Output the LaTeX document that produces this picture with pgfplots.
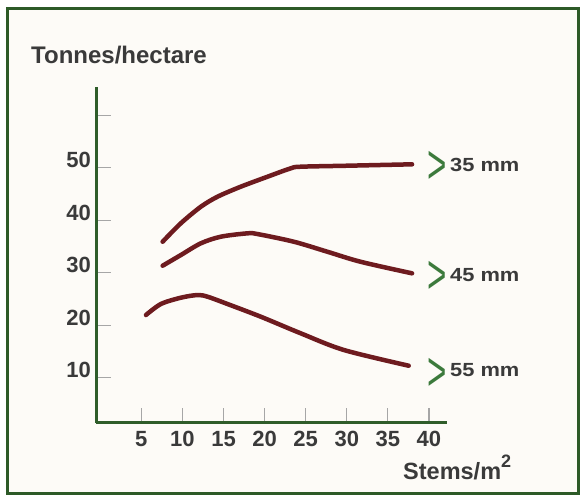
\documentclass[border=0pt]{standalone}
\usepackage{pgfplots}
\pgfplotsset{compat=1.18}
\usepackage{graphicx}
\usepackage{fontspec}
\setmainfont{Liberation Sans}
\definecolor{framegreen}{HTML}{2D5A27}
\definecolor{axisgreen}{HTML}{2F5D2A}
\definecolor{chev}{HTML}{3C7A3C}
\definecolor{curve}{HTML}{6E1B1F}
\definecolor{txt}{HTML}{3A3A3A}
\definecolor{bgc}{HTML}{FDFBF7}
\begin{document}
\begin{tikzpicture}
\useasboundingbox (0pt,0pt) rectangle (584pt,497pt);
\fill[white] (0pt,0pt) rectangle (584pt,497pt);
\fill[bgc] (7.5pt,3.7pt) rectangle (578.3pt,488.5pt);
\begin{axis}[
  at={(96pt,74pt)}, anchor=south west,
  scale only axis, width=351pt, height=336pt,
  xmin=-0.52, xmax=42.2, ymin=1.39, ymax=65.4,
  axis lines=left,
  axis line style={-, line width=3pt, color=axisgreen},
  xtick={5,10,...,40}, ytick={10,20,...,60},
  yticklabels={10,20,30,40,50,{}},
  tick align=inside, major tick length=15pt,
  tick style={color=black!35, line width=1.2pt},
  /pgf/number format/assume math mode=true,
  ticklabel style={font=\fontsize{22}{22}\selectfont\bfseries, text=txt},
  yticklabel style={anchor=base east, inner sep=0pt, xshift=-5pt},
  xticklabel style={anchor=north, inner sep=0pt, yshift=-8pt},
  clip=false,
]
\addplot[curve, line width=4.5pt, smooth, tension=0.5, line cap=round] coordinates {
(7.59,35.92) (9.80,39.43) (12.24,42.59) (14.27,44.50) (17.09,46.40) (20.34,48.30) (23.17,49.90) (24.38,50.21) (30,50.40) (37.95,50.67)};
\addplot[curve, line width=4.5pt, smooth, tension=0.5, line cap=round] coordinates {
(7.59,31.35) (9.81,33.39) (12.24,35.62) (14.67,36.88) (17.91,37.52) (19.12,37.39) (23.57,35.92) (27.63,34.02) (31.67,32.11) (37.95,29.90)};
\addplot[curve, line width=4.5pt, smooth, tension=0.5, line cap=round] coordinates {
(5.56,21.96) (7.38,24.06) (9.81,25.26) (11.84,25.77) (13.05,25.45) (15.48,24.06) (19.53,21.64) (24.39,18.48) (29.64,15.30) (37.54,12.30)};
\end{axis}
\node[anchor=base west, inner sep=0pt, text=txt, font=\fontsize{24}{24}\selectfont\bfseries] at (31pt,433pt) {Tonnes/hectare};
\node[anchor=base west, inner sep=0pt, text=txt, font=\fontsize{23.5}{23.5}\selectfont\bfseries] at (403pt,17.7pt) {Stems/m\raisebox{12pt}{\fontsize{18}{18}\selectfont 2}};
\node[anchor=base west, inner sep=0pt, text=chev] at (427pt,313pt) {\scalebox{0.72}[1.2]{\fontsize{46}{46}\selectfont >}};
\node[anchor=base west, inner sep=0pt, text=txt] at (450pt,325pt) {\scalebox{1.15}[1]{\fontsize{19}{19}\selectfont\bfseries 35 mm}};
\node[anchor=base west, inner sep=0pt, text=chev] at (427pt,203pt) {\scalebox{0.72}[1.2]{\fontsize{46}{46}\selectfont >}};
\node[anchor=base west, inner sep=0pt, text=txt] at (450pt,215pt) {\scalebox{1.15}[1]{\fontsize{19}{19}\selectfont\bfseries 45 mm}};
\node[anchor=base west, inner sep=0pt, text=chev] at (427pt,106.5pt) {\scalebox{0.72}[1.2]{\fontsize{46}{46}\selectfont >}};
\node[anchor=base west, inner sep=0pt, text=txt] at (450pt,120pt) {\scalebox{1.15}[1]{\fontsize{19}{19}\selectfont\bfseries 55 mm}};
\draw[line width=3pt, framegreen] (7.5pt,3.7pt) rectangle (578.3pt,488.5pt);
\end{tikzpicture}
\end{document}
